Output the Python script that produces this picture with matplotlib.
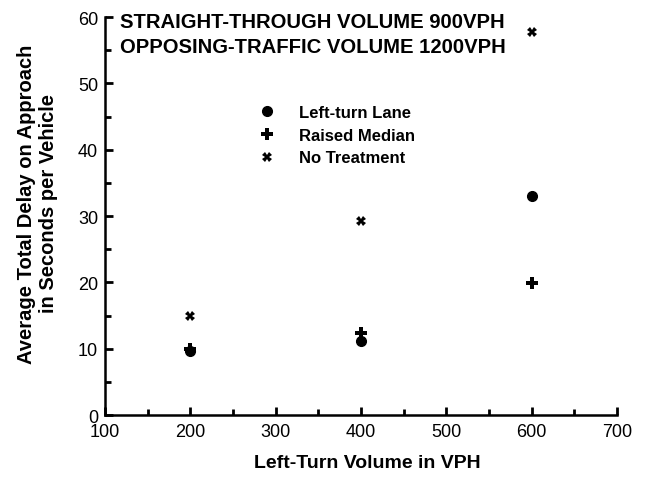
import matplotlib.pyplot as plt
from matplotlib.ticker import MultipleLocator

plt.rcParams['font.family'] = ['Liberation Sans', 'DejaVu Sans']

# 数据
volume = [200, 400, 600]
left_turn_lane = [9.7, 11.2, 33.0]
raised_median = [10.0, 12.4, 19.9]
no_treatment = [14.9, 29.2, 57.7]

fig = plt.figure(figsize=(6.51, 4.81), dpi=100)
ax = fig.add_axes([0.1613, 0.1351, 0.7865, 0.8274])

ax.plot(volume, left_turn_lane, 'o', color='black', markersize=7, label='Left-turn Lane')
ax.plot(volume, raised_median, 'P', color='black', markersize=9, markeredgewidth=0, label='Raised Median')
ax.plot(volume, no_treatment, 'X', color='black', markersize=6.5, markeredgewidth=0, label='No Treatment')

ax.set_xlim(100, 700)
ax.set_ylim(0, 60)
ax.xaxis.set_major_locator(MultipleLocator(100))
ax.xaxis.set_minor_locator(MultipleLocator(50))
ax.yaxis.set_major_locator(MultipleLocator(10))
ax.yaxis.set_minor_locator(MultipleLocator(5))
ax.tick_params(which='both', direction='in', width=2, labelsize=13)
ax.tick_params(which='major', length=6)
ax.tick_params(which='minor', length=4)
ax.tick_params(axis='x', pad=6)
ax.tick_params(axis='y', pad=5)

for s in ['top', 'right']:
    ax.spines[s].set_visible(False)
for s in ['left', 'bottom']:
    ax.spines[s].set_linewidth(1.8)

ax.set_xlabel('Left-Turn Volume in VPH', fontsize=14, fontweight='bold')
ax.xaxis.set_label_coords(0.513, -0.098)
ax.set_ylabel('Average Total Delay on Approach\nin Seconds per Vehicle', fontsize=14.5, fontweight='bold')
ax.yaxis.set_label_coords(-0.092, 0.533)

ax.text(0.029, 1.0126, 'STRAIGHT-THROUGH VOLUME 900VPH\nOPPOSING-TRAFFIC VOLUME 1200VPH',
        transform=ax.transAxes, fontsize=14.6, fontweight='bold', va='top', linespacing=1.4)

# 图例
ax.legend(loc='upper left', bbox_to_anchor=(0.398, 0.780), bbox_transform=fig.transFigure,
          frameon=False, prop={'weight': 'bold', 'size': 12}, borderpad=0, borderaxespad=0,
          handlelength=1, handletextpad=1.4, labelspacing=0.47)

plt.savefig('out.png', dpi=100)
